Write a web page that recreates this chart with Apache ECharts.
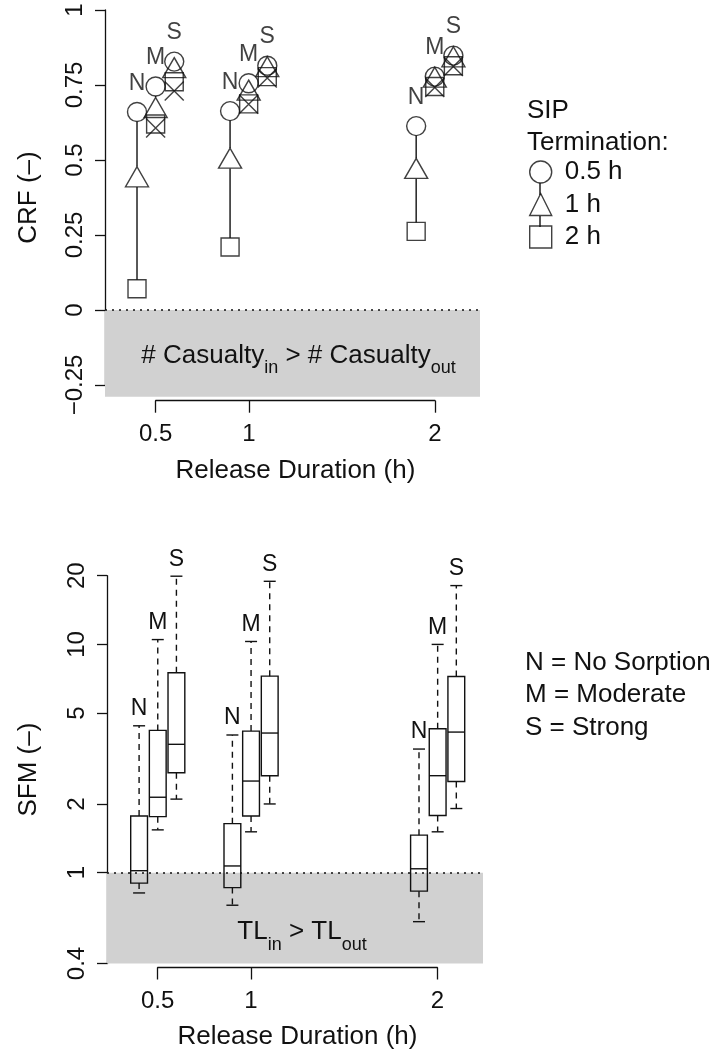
<!DOCTYPE html>
<html>
<head>
<meta charset="utf-8">
<title>CRF / SFM vs release duration</title>
<script src="https://cdn.jsdelivr.net/npm/echarts@6/dist/echarts.min.js"></script>
<style>
  html, body { margin: 0; padding: 0; background: #fff; }
  #chart { width: 713px; height: 1057px; }
</style>
</head>
<body>
<div id="chart"></div>
<script>
// release duration (h) and sorption groups
const releaseHours = [0.5, 1, 2];
const sorptionLevels = ['N', 'M', 'S'];
const terminationNames = ['0.5 h', '1 h', '2 h'];
const releaseTicks = [0.5, 1, 2];
const sfmTicks = [0.4, 1, 2, 5, 10, 20];

// CRF, rows = release 0.5 / 1 / 2 h, columns = N / M / S
const crfTerm05 = [[0.66, 0.745, 0.828], [0.663, 0.756, 0.814], [0.613, 0.778, 0.848]];
const crfTerm1 = [[0.433, 0.664, 0.797], [0.495, 0.722, 0.800], [0.461, 0.765, 0.833]];
const crfTerm2 = [[0.071, 0.620, 0.761], [0.210, 0.687, 0.778], [0.262, 0.745, 0.814]];
const crfCross = [[null, 0.607, 0.730], [null, 0.686, 0.773], [null, 0.742, 0.812]];

// SFM box stats [min, q1, median, q3, max], rows = N / M / S
const sfmRelease05 = [[0.815, 0.90, 1.02, 1.77, 4.40], [1.54, 1.76, 2.14, 4.20, 10.5], [2.10, 2.74, 3.65, 7.51, 19.9]];
const sfmRelease1 = [[0.72, 0.86, 1.07, 1.64, 4.01], [1.51, 1.77, 2.52, 4.17, 10.3], [2.00, 2.66, 4.09, 7.26, 18.9]];
const sfmRelease2 = [[0.61, 0.83, 1.04, 1.46, 3.48], [1.51, 1.78, 2.66, 4.27, 10.0], [1.91, 2.51, 4.13, 7.24, 18.1]];

// layout
const X_MIN = 0.228, X_MAX = 2.243;
const GROUP_SHIFT = 0.1;
const BOX_WIDTH = 0.09;
const CRF_FLOOR = -0.289;
const INK = '#111';
const FONT = "'Liberation Sans', Arial, Helvetica, sans-serif";

function groupX(i, j) {
  return releaseHours[i] + (j - 1) * GROUP_SHIFT;
}

function crfPoints(table) {
  const out = [];
  table.forEach((row, i) => row.forEach((v, j) => {
    if (v != null) out.push({ name: sorptionLevels[j], value: [groupX(i, j), v] });
  }));
  return out;
}

function dropRows() {
  const rows = [];
  releaseHours.forEach((r, i) => sorptionLevels.forEach((s, j) => {
    rows.push([groupX(i, j), crfTerm05[i][j], crfTerm1[i][j], crfTerm2[i][j]]);
  }));
  return rows;
}

function boxRows() {
  const rows = [];
  [sfmRelease05, sfmRelease1, sfmRelease2].forEach((group, i) => group.forEach((st, j) => {
    rows.push([groupX(i, j)].concat(st, [j]));
  }));
  return rows;
}

// type="b" style connector, leaves gaps around the open symbols
function renderDropLine(params, api) {
  const x = api.value(0);
  const pc = api.coord([x, api.value(1)]);
  const pt = api.coord([x, api.value(2)]);
  const ps = api.coord([x, api.value(3)]);
  const segs = [[pc[1] + 9.5, pt[1] - 13.5], [pt[1] + 7, ps[1] - 9]];
  return {
    type: 'group',
    children: segs.filter(s => s[1] - s[0] > 1).map(s => ({
      type: 'line',
      shape: { x1: pc[0], y1: s[0], x2: pc[0], y2: s[1] },
      style: { stroke: INK, lineWidth: 1.4 }
    }))
  };
}

function renderSfmBox(params, api) {
  const x = api.value(0);
  const y = v => api.coord([x, v])[1];
  const cx = api.coord([x, 1])[0];
  const left = api.coord([x - BOX_WIDTH / 2, 1])[0];
  const right = api.coord([x + BOX_WIDTH / 2, 1])[0];
  const lo = y(api.value(1)), q1 = y(api.value(2)), med = y(api.value(3));
  const q3 = y(api.value(4)), hi = y(api.value(5));
  const capHalf = 6;
  const solid = { stroke: INK, lineWidth: 1.4 };
  const dashed = { stroke: INK, lineWidth: 1.4, lineDash: [6, 5] };
  return {
    type: 'group',
    children: [
      { type: 'line', shape: { x1: cx, y1: q3, x2: cx, y2: hi }, style: dashed },
      { type: 'line', shape: { x1: cx, y1: q1, x2: cx, y2: lo }, style: dashed },
      { type: 'line', shape: { x1: cx - capHalf, y1: hi, x2: cx + capHalf, y2: hi }, style: solid },
      { type: 'line', shape: { x1: cx - capHalf, y1: lo, x2: cx + capHalf, y2: lo }, style: solid },
      { type: 'rect', shape: { x: left, y: q3, width: right - left, height: q1 - q3 },
        style: { stroke: INK, lineWidth: 1.4, fill: 'none' } },
      { type: 'line', shape: { x1: left, y1: med, x2: right, y2: med }, style: solid },
      { type: 'text', x: cx, y: hi - 17,
        style: { text: sorptionLevels[api.value(6)], fill: INK, fontSize: 23, fontFamily: FONT,
                 align: 'center', verticalAlign: 'middle' } }
    ]
  };
}

const openSymbol = { color: 'rgba(0,0,0,0)', borderColor: INK, borderWidth: 1.4 };
const tickStyle = { color: INK, width: 1.3 };
const labelStyle = { color: INK, fontSize: 24, fontFamily: FONT };
const nameStyle = { color: INK, fontSize: 26, fontFamily: FONT };
const hiddenAxis = { show: false, splitLine: { show: false } };

const chart = echarts.init(document.getElementById('chart'), null, { renderer: 'canvas' });

const option = {
  animation: false,
  backgroundColor: '#fff',
  textStyle: { fontFamily: FONT },
  grid: [
    { left: 105, top: 10, width: 375, height: 386.7 },      // top plot
    { left: 155.7, top: 10, width: 279.3, height: 375 },    // top axes
    { left: 107, top: 575.7, width: 376, height: 387.8 },   // bottom plot
    { left: 157.7, top: 575.7, width: 279.6, height: 387.8 } // bottom x axis
  ],
  xAxis: [
    Object.assign({ gridIndex: 0, type: 'value', min: X_MIN, max: X_MAX }, hiddenAxis),
    {
      gridIndex: 1, type: 'value', min: 0.5, max: 2, position: 'bottom', offset: 15.7,
      axisLine: { show: true, onZero: false, lineStyle: tickStyle },
      axisTick: { show: true, customValues: releaseTicks, length: 12, lineStyle: tickStyle },
      axisLabel: Object.assign({ customValues: releaseTicks, margin: 22 }, labelStyle),
      splitLine: { show: false },
      name: 'Release Duration (h)', nameLocation: 'middle', nameGap: 57, nameTextStyle: nameStyle
    },
    Object.assign({ gridIndex: 2, type: 'value', min: X_MIN, max: X_MAX }, hiddenAxis),
    {
      gridIndex: 3, type: 'value', min: 0.5, max: 2, position: 'bottom', offset: 4,
      axisLine: { show: true, onZero: false, lineStyle: tickStyle },
      axisTick: { show: true, customValues: releaseTicks, length: 12, lineStyle: tickStyle },
      axisLabel: Object.assign({ customValues: releaseTicks, margin: 22 }, labelStyle),
      splitLine: { show: false },
      name: 'Release Duration (h)', nameLocation: 'middle', nameGap: 56, nameTextStyle: nameStyle
    }
  ],
  yAxis: [
    Object.assign({ gridIndex: 0, type: 'value', min: CRF_FLOOR, max: 1 }, hiddenAxis),
    {
      gridIndex: 1, type: 'value', min: -0.25, max: 1, interval: 0.25, offset: 50.7,
      axisLine: { show: true, onZero: false, lineStyle: tickStyle },
      axisTick: { show: true, length: 10, lineStyle: tickStyle },
      axisLabel: Object.assign({ rotate: 90, margin: 18,
        formatter: v => String(v).replace('-', '\u2212') }, labelStyle),
      splitLine: { show: false },
      name: 'CRF (\u2013)', nameLocation: 'middle', nameGap: 63, nameRotate: 90, nameTextStyle: nameStyle
    },
    {
      gridIndex: 2, type: 'log', logBase: 10, min: 0.4, max: 20,
      axisLine: { show: true, onZero: false, lineStyle: tickStyle },
      axisTick: { show: true, customValues: sfmTicks, length: 10, lineStyle: tickStyle },
      axisLabel: Object.assign({ customValues: sfmTicks, rotate: 90, margin: 18,
        formatter: v => String(v) }, labelStyle),
      minorTick: { show: false },
      splitLine: { show: false },
      name: 'SFM (\u2013)', nameLocation: 'middle', nameGap: 65, nameRotate: 90, nameTextStyle: nameStyle
    },
    Object.assign({ gridIndex: 3, type: 'value', min: 0, max: 1 }, hiddenAxis)
  ],
  legend: {
    orient: 'vertical', left: 524, top: 154, padding: 5,
    itemWidth: 22, itemHeight: 22, itemGap: 6.5,
    data: terminationNames,
    selectedMode: false,
    itemStyle: openSymbol,
    textStyle: { color: INK, fontSize: 26, fontFamily: FONT, padding: [0, 0, 0, 8] }
  },
  graphic: [
    { type: 'line', z: 0, shape: { x1: 540, y1: 183, x2: 540, y2: 195 }, style: { stroke: INK, lineWidth: 1.4 } },
    { type: 'line', z: 0, shape: { x1: 540, y1: 216, x2: 540, y2: 227 }, style: { stroke: INK, lineWidth: 1.4 } },
    { type: 'text', left: 527, top: 98, style: { text: 'SIP', fill: INK, fontSize: 26, fontFamily: FONT } },
    { type: 'text', left: 527, top: 130, style: { text: 'Termination:', fill: INK, fontSize: 26, fontFamily: FONT } },
    { type: 'text', left: 525, top: 650, style: { text: 'N = No Sorption', fill: INK, fontSize: 26, fontFamily: FONT } },
    { type: 'text', left: 525, top: 682, style: { text: 'M = Moderate', fill: INK, fontSize: 26, fontFamily: FONT } },
    { type: 'text', left: 525, top: 715, style: { text: 'S = Strong', fill: INK, fontSize: 26, fontFamily: FONT } }
  ],
  series: [
    {
      name: 'connectors', type: 'custom', xAxisIndex: 0, yAxisIndex: 0, z: 1,
      renderItem: renderDropLine, data: dropRows(), silent: true,
      markArea: {
        silent: true,
        itemStyle: { color: '#d1d1d1' },
        label: {
          show: true, position: 'inside', offset: [6, 2],
          formatter: '{m|# Casualty}{s|in}{m| > # Casualty}{s|out}',
          rich: {
            m: { fontSize: 26, fontFamily: FONT, color: INK, lineHeight: 44 },
            s: { fontSize: 18, fontFamily: FONT, color: INK, lineHeight: 18, verticalAlign: 'bottom' }
          }
        },
        data: [[{ yAxis: CRF_FLOOR }, { yAxis: 0 }]]
      },
      markLine: {
        silent: true, symbol: 'none', label: { show: false },
        lineStyle: { color: INK, type: [2, 5], width: 1.5 },
        data: [{ yAxis: 0 }]
      }
    },
    {
      name: '0.5 h', type: 'scatter', xAxisIndex: 0, yAxisIndex: 0, z: 3,
      symbol: 'circle', symbolSize: 19, itemStyle: openSymbol,
      label: { show: true, position: 'top', distance: 6.5, formatter: '{b}',
               color: INK, fontSize: 23, fontFamily: FONT, lineHeight: 24 },
      data: crfPoints(crfTerm05)
    },
    {
      name: '1 h', type: 'scatter', xAxisIndex: 0, yAxisIndex: 0, z: 3,
      symbol: 'triangle', symbolSize: [23, 20], symbolOffset: [0, -3.3], itemStyle: openSymbol,
      data: crfPoints(crfTerm1)
    },
    {
      name: '2 h', type: 'scatter', xAxisIndex: 0, yAxisIndex: 0, z: 3,
      symbol: 'rect', symbolSize: 18, itemStyle: openSymbol,
      data: crfPoints(crfTerm2)
    },
    {
      name: 'cross', type: 'scatter', xAxisIndex: 0, yAxisIndex: 0, z: 3,
      symbol: 'path://M0,0L20,20M20,0L0,20', symbolSize: 19, itemStyle: openSymbol,
      data: crfPoints(crfCross)
    },
    {
      name: 'SFM', type: 'custom', xAxisIndex: 2, yAxisIndex: 2, z: 2,
      renderItem: renderSfmBox, data: boxRows(), silent: true,
      encode: { x: 0, y: [1, 2, 3, 4, 5] },
      markArea: {
        silent: true,
        itemStyle: { color: '#d1d1d1' },
        label: {
          show: true, position: 'inside', offset: [7, 14],
          formatter: '{m|TL}{s|in}{m| > TL}{s|out}',
          rich: {
            m: { fontSize: 26, fontFamily: FONT, color: INK, lineHeight: 44 },
            s: { fontSize: 18, fontFamily: FONT, color: INK, lineHeight: 18, verticalAlign: 'bottom' }
          }
        },
        data: [[{ yAxis: 0.4 }, { yAxis: 1 }]]
      },
      markLine: {
        silent: true, symbol: 'none', label: { show: false },
        lineStyle: { color: INK, type: [2, 5], width: 1.5 },
        data: [{ yAxis: 1 }]
      }
    }
  ]
};

chart.setOption(option);
window.addEventListener('resize', () => chart && chart.resize());
</script>
</body>
</html>
